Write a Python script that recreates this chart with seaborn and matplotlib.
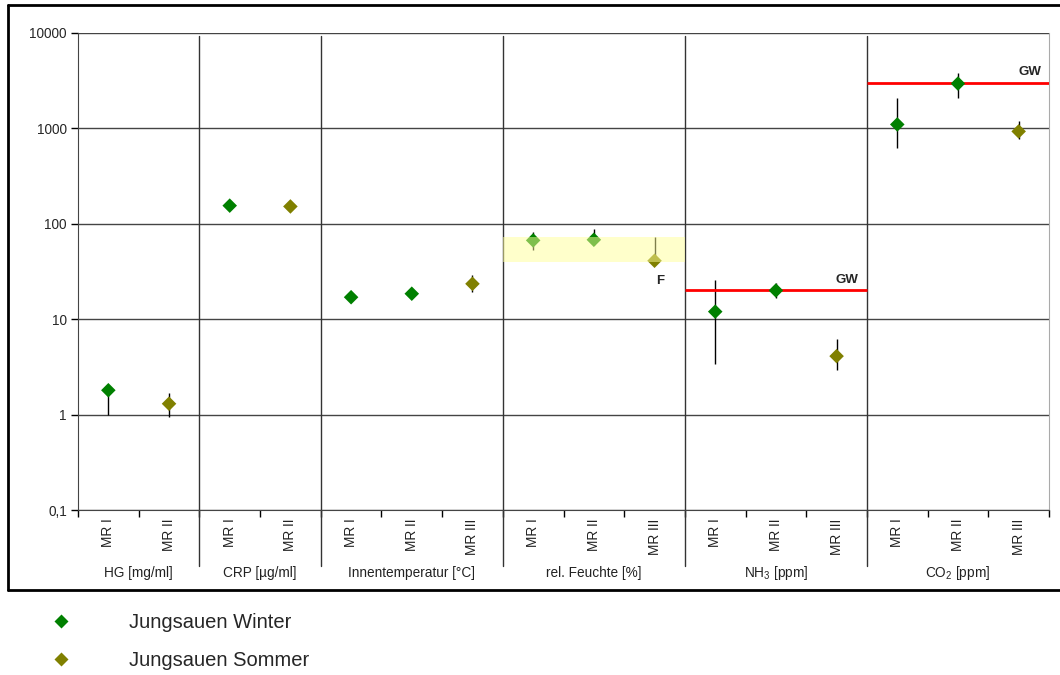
import numpy as np
import pandas as pd
import matplotlib
matplotlib.use("Agg")
import matplotlib.pyplot as plt
import matplotlib.transforms as mtransforms
from matplotlib.lines import Line2D
import seaborn as sns

# ---- data ----
group_labels = ["HG [mg/ml]", "CRP [µg/ml]", "Innentemperatur [°C]",
                "rel. Feuchte [%]", "NH$_3$ [ppm]", "CO$_2$ [ppm]"]
group_sizes = [2, 2, 3, 3, 3, 3]
slot_labels = ["MR I", "MR II",
               "MR I", "MR II",
               "MR I", "MR II", "MR III",
               "MR I", "MR II", "MR III",
               "MR I", "MR II", "MR III",
               "MR I", "MR II", "MR III"]
nan = np.nan
winter = [1.8, nan, 155, nan, 17, 18.5, nan, 67, 68, nan, 12, 20, nan, 1100, 2950, nan]
summer = [nan, 1.3, nan, 152, nan, nan, 23.5, nan, nan, 41, nan, nan, 4.1, nan, nan, 930]
err_low = [1.0, 0.95, nan, nan, nan, 16.5, 19.5, 53, 60, 41, 3.4, 16.5, 2.9, 620, 2090, 780]
err_high = [1.8, 1.7, nan, nan, nan, 20, 29, 82, 89, 73, 26, 24, 6.2, 2070, 3780, 1210]
series_names = ["Jungsauen Winter", "Jungsauen Sommer"]
series_colors = ["#008000", "#808000"]
gw_nh3 = 20
gw_co2 = 3000
feuchte_band = (40, 72)
y_ticks = [0.1, 1, 10, 100, 1000, 10000]
y_tick_labels = ["0,1", "1", "10", "100", "1000", "10000"]

# ---- frame ----
rows = []
for i in range(len(slot_labels)):
    if not np.isnan(winter[i]):
        rows.append((i, winter[i], series_names[0]))
    if not np.isnan(summer[i]):
        rows.append((i, summer[i], series_names[1]))
df = pd.DataFrame(rows, columns=["pos", "value", "series"])

sns.set_style("white")
plt.rcParams["font.family"] = ["Liberation Sans", "DejaVu Sans"]
plt.rcParams["mathtext.default"] = "regular"

fig = plt.figure(figsize=(10.6, 6.75), dpi=100)
ax = fig.add_axes([78 / 1060, 1 - 510 / 675, (1049 - 78) / 1060, (510 - 33) / 675])
ax.set_yscale("log")

# error bars
for i in range(len(slot_labels)):
    if not np.isnan(err_low[i]):
        ax.vlines(i, err_low[i], err_high[i], color="black", lw=1, zorder=3)

sns.scatterplot(data=df, x="pos", y="value", hue="series", hue_order=series_names,
                palette=series_colors, marker="D", s=55, edgecolor="none",
                ax=ax, zorder=4, legend=True)

# Feuchte band
starts = np.cumsum([0] + group_sizes)
b0 = starts[3] - 0.5
b1 = starts[4] - 0.5
ax.fill_between([b0, b1], feuchte_band[0], feuchte_band[1], color="#ffff99",
                alpha=0.5, lw=0, zorder=5)

# GW lines
ax.hlines(gw_nh3, starts[4] - 0.5, starts[5] - 0.5, color="red", lw=2, zorder=3.5)
ax.hlines(gw_co2, starts[5] - 0.5, starts[6] - 0.5, color="red", lw=2, zorder=3.5)
ax.text(12.17, gw_nh3 * 1.12, "GW", ha="center", va="bottom", fontsize=9.5,
        fontweight="bold")
ax.text(15.18, gw_co2 * 1.12, "GW", ha="center", va="bottom", fontsize=9.5,
        fontweight="bold")
ax.text(9.1, 25, "F", ha="center", va="center", fontsize=9.5, fontweight="bold")

# axes
ax.set_xlim(-0.5, len(slot_labels) - 0.5)
ax.set_ylim(0.1, 10000)
ax.set_yticks(y_ticks)
ax.set_yticklabels(y_tick_labels)
ax.yaxis.set_minor_locator(matplotlib.ticker.NullLocator())
ax.tick_params(axis="y", length=5, width=1, color="black", labelsize=9.8,
               pad=3, direction="out", left=True)
ax.set_xticks(np.arange(-0.5, len(slot_labels), 1.0))
ax.set_xticklabels([])
ax.set_xticks(np.arange(len(slot_labels)), minor=True)
ax.set_xticklabels(slot_labels, minor=True, rotation=90, fontsize=9.8)
ax.tick_params(axis="x", which="major", length=5, width=1, color="black",
               direction="out", bottom=True)
ax.tick_params(axis="x", which="minor", length=0, pad=6)
ax.set_xlabel("")
ax.set_ylabel("")
for lab in ax.get_xticklabels(minor=True):
    lab.set_color("#222222")

ax.grid(False)
for y in y_ticks:
    ax.axhline(y, color="#444444", lw=1, zorder=1)
ax.spines["top"].set_visible(False)
ax.spines["right"].set_color("#aaaaaa")
ax.spines["left"].set_color("#444444")
ax.spines["bottom"].set_color("#444444")

# group dividers
trans = mtransforms.blended_transform_factory(ax.transData, ax.transAxes)
for b in starts[1:-1]:
    ax.plot([b - 0.5, b - 0.5], [-0.117, 0.994], transform=trans, color="#333333",
            lw=1, clip_on=False, zorder=2)
# group labels
for g, lab in enumerate(group_labels):
    c = (starts[g] + starts[g + 1] - 1) / 2
    ax.text(c, -0.132, lab, transform=trans, ha="center", va="center",
            fontsize=9.8, color="#222222")

# legend outside
handles, labels = ax.get_legend_handles_labels()
if ax.legend_ is not None:
    ax.legend_.remove()
leg = fig.legend(handles, labels, loc="upper left", bbox_to_anchor=(0.021, 1 - 595 / 675),
                 frameon=False, fontsize=14.5, handletextpad=2.4, labelspacing=0.95,
                 markerscale=1.0)

# outer frame
for (xs, ys) in [([8 / 1060, 1.0], [1 - 5 / 675, 1 - 5 / 675]),
                 ([8 / 1060, 1.0], [1 - 590 / 675, 1 - 590 / 675]),
                 ([8 / 1060, 8 / 1060], [1 - 5 / 675, 1 - 590 / 675])]:
    fig.add_artist(Line2D(xs, ys, transform=fig.transFigure, color="black", lw=2))

fig.savefig("out.png", dpi=100)
